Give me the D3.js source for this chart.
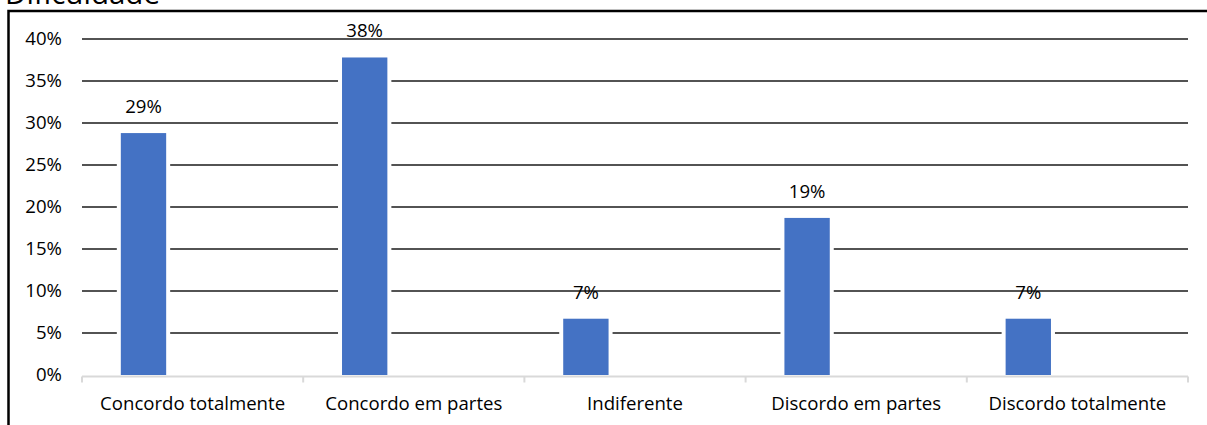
<!DOCTYPE html>
<html>
<head>
<meta charset="utf-8">
<script src="https://cdn.jsdelivr.net/npm/d3@7/dist/d3.min.js"></script>
<style>
  html, body { margin: 0; padding: 0; background: #fff; }
  svg { display: block; }
  text { font-family: "Open Sans", sans-serif; fill: #000; }
</style>
</head>
<body>
<svg id="chart" width="1207" height="425"></svg>
<script>
// Survey answers and their share of responses
const categories = ["Concordo totalmente", "Concordo em partes", "Indiferente", "Discordo em partes", "Discordo totalmente"];
const shares = [0.288, 0.378, 0.067, 0.187, 0.067];
const yTicks = [0, 0.05, 0.10, 0.15, 0.20, 0.25, 0.30, 0.35, 0.40];
const title = "Dificuldade";

const svg = d3.select("#chart");
const W = 1207, H = 425;
const plot = { left: 82, right: 1188, top: 39, bottom: 375 };
const fontSize = 18.6;

const x = d3.scaleBand().domain(categories).range([plot.left, plot.right]).padding(0);
const y = d3.scaleLinear().domain([0, 0.4]).range([plot.bottom, plot.top]);
const pct = d3.format(".0%");

// Title (runs off the top edge)
svg.append("text")
  .attr("x", 5).attr("y", 4)
  .attr("font-size", 29.5)
  .text(title);

// Frame around the chart area (continues past the right edge)
svg.append("path")
  .attr("d", `M8.5,${H + 5} L8.5,11 L${W + 5},11`)
  .attr("fill", "none")
  .attr("stroke", "#000")
  .attr("stroke-width", 2.5);

// Horizontal gridlines
svg.append("g")
  .selectAll("line")
  .data(yTicks.filter(d => d > 0))
  .join("line")
  .attr("x1", plot.left).attr("x2", plot.right)
  .attr("y1", d => y(d)).attr("y2", d => y(d))
  .attr("stroke", "#1a1a1a")
  .attr("stroke-width", 1.4);

// Value axis labels
const yAxis = d3.axisLeft(y).tickValues(yTicks).tickFormat(pct).tickSize(0).tickPadding(20);
const gy = svg.append("g").attr("transform", `translate(${plot.left},0)`).call(yAxis);
gy.select(".domain").remove();
gy.selectAll("text").attr("font-size", fontSize).attr("fill", "#000")
  .style("font-family", "'Open Sans', sans-serif");

// Bars sit left of centre inside each category band
const bw = x.bandwidth();
const barOffset = bw * 0.1755;
const barWidth = bw * 0.205;
const gap = 4;

const bars = svg.append("g");
// white halo that breaks the gridlines around each bar
bars.selectAll("rect.halo")
  .data(shares)
  .join("rect")
  .attr("class", "halo")
  .attr("x", (d, i) => x(categories[i]) + barOffset - gap)
  .attr("y", d => y(d) - gap)
  .attr("width", barWidth + gap * 2)
  .attr("height", d => y(0) - y(d) + gap)
  .attr("fill", "#fff");
bars.selectAll("rect.bar")
  .data(shares)
  .join("rect")
  .attr("class", "bar")
  .attr("x", (d, i) => x(categories[i]) + barOffset)
  .attr("y", d => y(d))
  .attr("width", barWidth)
  .attr("height", d => y(0) - y(d))
  .attr("fill", "#4472C4");

// Data labels
svg.append("g")
  .selectAll("text")
  .data(shares)
  .join("text")
  .attr("x", (d, i) => x(categories[i]) + barOffset + barWidth / 2)
  .attr("y", d => y(d) - 20)
  .attr("text-anchor", "middle")
  .attr("font-size", fontSize)
  .text(d => pct(d));

// Category axis: grey baseline with boundary ticks
const axisG = svg.append("g");
axisG.append("line")
  .attr("x1", plot.left).attr("x2", plot.right)
  .attr("y1", y(0) + 1.5).attr("y2", y(0) + 1.5)
  .attr("stroke", "#d9d9d9").attr("stroke-width", 2);
const bounds = categories.map(c => x(c)).concat([plot.right]);
axisG.selectAll("line.tick")
  .data(bounds)
  .join("line")
  .attr("class", "tick")
  .attr("x1", d => d).attr("x2", d => d)
  .attr("y1", y(0) + 1.5).attr("y2", y(0) + 7.5)
  .attr("stroke", "#d9d9d9").attr("stroke-width", 2);
axisG.selectAll("text")
  .data(categories)
  .join("text")
  .attr("x", d => x(d) + bw / 2)
  .attr("y", 410)
  .attr("text-anchor", "middle")
  .attr("font-size", fontSize)
  .text(d => d);
</script>
</body>
</html>
